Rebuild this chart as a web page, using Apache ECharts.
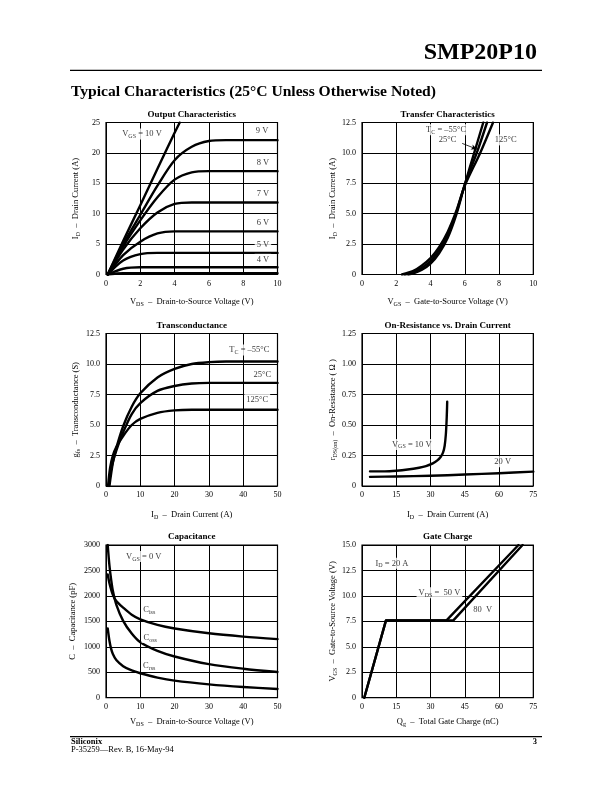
<!DOCTYPE html>
<html>
<head>
<meta charset="utf-8">
<script src="https://cdn.jsdelivr.net/npm/echarts@6.0.0/dist/echarts.min.js"></script>
<style>
html,body{margin:0;padding:0;background:#fff;}
#chart{width:612px;height:792px;}
</style>
</head>
<body>
<div id="chart"></div>
<script>
// ================= DATA =================
// 1. Output Characteristics: ID (A) vs VDS (V), one curve per VGS
const outVgs10 = [[0.1,0],[1,5.5],[2,11.4],[3,17.4],[4,23.3],[4.3,25]];
const outVgs9  = [[0.1,0],[1,5.0],[2,9.8],[3,14.6],[4,18.8],[5,21.0],[6,21.95],[7,22.1],[10,22.1]];
const outVgs8  = [[0.1,0],[1,4.6],[2,8.9],[3,12.7],[4,15.6],[5,16.8],[6,17.0],[10,17.0]];
const outVgs7  = [[0.1,0],[1,4.1],[2,7.6],[3,10.2],[4,11.6],[5,11.85],[10,11.85]];
const outVgs6  = [[0.1,0],[1,3.2],[2,5.4],[3,6.75],[4,7.1],[10,7.1]];
const outVgs5  = [[0.1,0],[1,2.3],[2,3.35],[3,3.55],[10,3.55]];
const outVgs4  = [[0.1,0],[1,0.95],[2,1.2],[10,1.2]];
const outVgs3  = [[0.1,0],[1,0.2],[10,0.2]];
const outXTicks = [0,2,4,6,8,10];
const outYTicks = [0,5,10,15,20,25];

// 2. Transfer Characteristics: ID (A) vs VGS (V), one curve per TC
const trM55 = [[2.7,0],[3,0.1],[3.5,0.4],[4,0.9],[4.5,1.75],[5,3.0],[5.5,4.9],[6,7.4],[6.55,10],[7.08,12.5]];
const tr25  = [[2.5,0],[3,0.2],[3.5,0.55],[4,1.1],[4.5,2.0],[5,3.25],[5.5,5.05],[6,7.4],[6.7,10],[7.3,12.5]];
const tr125 = [[2.33,0],[3,0.3],[3.5,0.75],[4,1.35],[4.5,2.25],[5,3.5],[5.5,5.2],[6,7.3],[6.9,10],[7.65,12.5]];
const trXTicks = [0,2,4,6,8,10];
const trYTicks = [0,2.5,5,7.5,10,12.5];

// 3. Transconductance: gfs (S) vs ID (A)
const gfsM55 = [[1,0],[2,1.9],[3,3.1],[5,4.9],[7.5,6.5],[10,7.6],[15,8.9],[20,9.6],[25,10.0],[30,10.15],[35,10.2],[50,10.2]];
const gfs25  = [[0.8,0],[1.5,1.4],[3,2.9],[5,4.4],[7.5,5.9],[10,6.8],[15,7.8],[20,8.2],[25,8.4],[30,8.45],[50,8.45]];
const gfs125 = [[0.6,0],[1.2,1.5],[2,2.5],[3,3.2],[5,4.1],[7.5,5.0],[10,5.5],[15,6.0],[20,6.2],[25,6.25],[50,6.25]];
const gfsXTicks = [0,10,20,30,40,50];
const gfsYTicks = [0,2.5,5,7.5,10,12.5];

// 4. On-Resistance vs Drain Current: rDS(on) (ohm) vs ID (A)
const rdsVgs10 = [[3.5,0.12],[10,0.12],[15,0.125],[20,0.135],[25,0.15],[28,0.163],[31,0.185],[33,0.21],[34.5,0.24],[35.5,0.275],[36.2,0.33],[36.7,0.42],[37,0.52],[37.2,0.62],[37.3,0.69]];
const rdsVgs20 = [[3.5,0.075],[15,0.078],[30,0.084],[45,0.094],[60,0.105],[75,0.118]];
const rdsXTicks = [0,15,30,45,60,75];
const rdsYTicks = [0,0.25,0.5,0.75,1.0,1.25];

// 5. Capacitance: C (pF) vs VDS (V)
const capCiss = [[0.5,2420],[1,2250],[2,2020],[3,1900],[5,1770],[7.5,1630],[10,1540],[15,1430],[20,1360],[30,1265],[40,1200],[50,1150]];
const capCoss = [[0.5,3000],[1,2600],[1.5,2320],[2,2100],[3,1830],[5,1510],[7.5,1260],[10,1090],[15,920],[20,810],[30,660],[40,570],[50,505]];
const capCrss = [[0.5,1360],[1,1120],[1.5,960],[2,860],[3,740],[5,620],[7.5,535],[10,480],[15,395],[20,335],[30,262],[40,210],[50,172]];
const capXTicks = [0,10,20,30,40,50];
const capYTicks = [0,500,1000,1500,2000,2500,3000];

// 6. Gate Charge: VGS (V) vs Qg (nC)
const qgVds50 = [[1,0],[10.5,7.6],[37,7.6],[68.5,15]];
const qgVds80 = [[1,0],[10.5,7.6],[40,7.6],[70.3,15]];
const qgXTicks = [0,15,30,45,60,75];
const qgYTicks = [0,2.5,5,7.5,10,12.5,15];

// Annotations (data coordinates, text)
const annOut = [[2.1,23.1,'{n|V}{s|GS}{n| = 10 V}'],[9.1,23.6,'{n|9 V}'],[9.15,18.4,'{n|8 V}'],[9.15,13.2,'{n|7 V}'],[9.15,8.5,'{n|6 V}'],[9.15,4.97,'{n|5 V}'],[9.15,2.5,'{n|4 V}']];
const annTr = [[4.91,11.9,'{n|T}{s|C}{n| = –55°C}'],[5.0,11.07,'{n|25°C}'],[8.39,11.07,'{n|125°C}']];
const arrowTr = [[5.85,10.78],[6.72,10.3]];
const annGfs = [[41.8,11.15,'{n|T}{s|C}{n| = –55°C}'],[45.6,9.13,'{n|25°C}'],[44.1,7.1,'{n|125°C}']];
const annRds = [[21.8,0.341,'{n|V}{s|GS}{n| = 10 V}'],[61.6,0.199,'{n|20 V}']];
const annCap = [[11,2773,'{n|V}{s|GS}{n| = 0 V}'],[12.6,1734,'{n|C}{s|iss}'],[12.9,1182,'{n|C}{s|oss}'],[12.6,630,'{n|C}{s|rss}']];
const annQg = [[13.1,13.2,'{n|I}{s|D}{n| = 20 A}'],[33.9,10.3,'{n|V}{s|DS}{n| =  50 V}'],[52.8,8.67,'{n|80  V}']];

// ================= LAYOUT / STYLE =================
const FONT = '"Liberation Serif","Times New Roman",Times,serif';
const RICH = {
  n:{fontFamily:FONT,fontSize:8.5,lineHeight:11,color:'#000'},
  s:{fontFamily:FONT,fontSize:6,lineHeight:6,verticalAlign:'bottom',color:'#000'}
};
const GRIDS = [
  {left:106, top:122.5, width:171.5, height:152},
  {left:362, top:122.5, width:171.3, height:152},
  {left:106, top:333.5, width:171.5, height:152.5},
  {left:362, top:333.5, width:171.3, height:152.5},
  {left:106, top:545,   width:171.5, height:152.7},
  {left:362, top:545,   width:171.3, height:152.7}
];
const panels = [
  {xt:outXTicks, yt:outYTicks, yd:0, xn:'{n|V}{s|DS}{n|  –  Drain-to-Source Voltage (V)}', yn:'{n|I}{s|D}{n|  –  Drain Current (A)}', xg:22, yg:25, title:'Output Characteristics'},
  {xt:trXTicks, yt:trYTicks, yd:1, xn:'{n|V}{s|GS}{n|  –  Gate-to-Source Voltage (V)}', yn:'{n|I}{s|D}{n|  –  Drain Current (A)}', xg:22, yg:21, title:'Transfer Characteristics'},
  {xt:gfsXTicks, yt:gfsYTicks, yd:1, xn:'{n|I}{s|D}{n|  –  Drain Current (A)}', yn:'{n|g}{s|fs}{n|  –  Transconductance (S)}', xg:23, yg:25, title:'Transconductance'},
  {xt:rdsXTicks, yt:rdsYTicks, yd:2, xn:'{n|I}{s|D}{n|  –  Drain Current (A)}', yn:'{n|r}{s|DS(on)}{n|  –  On-Resistance ( Ω )}', xg:23, yg:24, title:'On-Resistance vs. Drain Current'},
  {xt:capXTicks, yt:capYTicks, yd:0, xn:'{n|V}{s|DS}{n|  –  Drain-to-Source Voltage (V)}', yn:'{n|C}{n|  –  Capacitance (pF)}', xg:19, yg:28, title:'Capacitance'},
  {xt:qgXTicks, yt:qgYTicks, yd:1, xn:'{n|Q}{s|g}{n|  –  Total Gate Charge (nC)}', yn:'{n|V}{s|GS}{n|  –  Gate-to-Source Voltage (V)}', xg:19, yg:24, title:'Gate Charge'}
];

const grid = GRIDS.map(g => Object.assign({show:true, borderColor:'#000', borderWidth:1.2, backgroundColor:'#fff', containLabel:false, outerBoundsMode:'none'}, g));
const tickFont = {fontFamily:FONT, fontSize:8, color:'#000'};
const xAxis = panels.map((p,i) => ({
  type:'value', gridIndex:i, min:p.xt[0], max:p.xt[p.xt.length-1], interval:p.xt[1]-p.xt[0],
  axisLine:{show:false}, axisTick:{show:false},
  splitLine:{show:true, lineStyle:{color:'#000', width:1}},
  axisLabel:Object.assign({margin:5, showMinLabel:true, showMaxLabel:true, formatter:v=>String(v)}, tickFont),
  name:p.xn, nameLocation:'middle', nameGap:p.xg, nameTextStyle:{rich:RICH}
}));
const yAxis = panels.map((p,i) => ({
  type:'value', gridIndex:i, min:p.yt[0], max:p.yt[p.yt.length-1], interval:p.yt[1]-p.yt[0],
  axisLine:{show:false}, axisTick:{show:false},
  splitLine:{show:true, lineStyle:{color:'#000', width:1}},
  axisLabel:Object.assign({margin:6, showMinLabel:true, showMaxLabel:true, formatter:v=> v===0 ? '0' : v.toFixed(p.yd)}, tickFont),
  name:p.yn, nameLocation:'middle', nameGap:p.yg, nameRotate:90, nameTextStyle:{rich:RICH}
}));

function curve(i, data, smooth) {
  return {type:'line', xAxisIndex:i, yAxisIndex:i, data:data, symbol:'none', showSymbol:false,
    smooth: smooth===false ? false : 0.3, silent:true, z:3,
    lineStyle:{color:'#000', width:2.4, cap:'round', join:'round'}, clip:true};
}
function notes(i, ann, extra) {
  const s = {type:'scatter', xAxisIndex:i, yAxisIndex:i, symbolSize:1, silent:true, z:6,
    itemStyle:{color:'rgba(0,0,0,0)'},
    data: ann.map(a => ({value:[a[0],a[1]], name:a[2]})),
    label:{show:true, position:'inside', formatter:p=>p.name, rich:RICH,
      fontFamily:FONT, fontSize:8.5, color:'#000', backgroundColor:'#fff', padding:[0,2,0,2]}};
  return Object.assign(s, extra||{});
}

const series = [
  curve(0,outVgs10), curve(0,outVgs9), curve(0,outVgs8), curve(0,outVgs7),
  curve(0,outVgs6), curve(0,outVgs5), curve(0,outVgs4), curve(0,outVgs3),
  notes(0, annOut),
  curve(1,trM55), curve(1,tr25), curve(1,tr125),
  notes(1, annTr, {markLine:{silent:true, animation:false, symbol:['none','arrow'], symbolSize:[4,6],
    lineStyle:{color:'#000', width:0.8, type:'solid'}, label:{show:false},
    data:[[{coord:arrowTr[0]},{coord:arrowTr[1]}]]}}),
  curve(2,gfsM55), curve(2,gfs25), curve(2,gfs125),
  notes(2, annGfs),
  curve(3,rdsVgs10), curve(3,rdsVgs20),
  notes(3, annRds),
  curve(4,capCiss), curve(4,capCoss), curve(4,capCrss),
  notes(4, annCap),
  curve(5,qgVds50,false), curve(5,qgVds80,false),
  notes(5, annQg)
];

// page texts + chart titles
const graphic = [
  {type:'text', x:537, y:53, style:{text:'SMP20P10', font:'bold 24px '+FONT, fill:'#000', align:'right', verticalAlign:'middle'}},
  {type:'line', shape:{x1:70, y1:70.3, x2:542, y2:70.3}, style:{stroke:'#000', lineWidth:1.3}},
  {type:'text', x:71, y:92, style:{text:'Typical Characteristics (25°C Unless Otherwise Noted)', font:'bold 15.6px '+FONT, fill:'#000', align:'left', verticalAlign:'middle'}},
  {type:'line', shape:{x1:70, y1:736.7, x2:542, y2:736.7}, style:{stroke:'#000', lineWidth:1.2}},
  {type:'text', x:71, y:741.5, style:{text:'Siliconix', font:'bold 8.5px '+FONT, fill:'#000', align:'left', verticalAlign:'middle'}},
  {type:'text', x:537, y:741.5, style:{text:'3', font:'bold 8.5px '+FONT, fill:'#000', align:'right', verticalAlign:'middle'}},
  {type:'text', x:71, y:749.8, style:{text:'P-35259—Rev. B, 16-May-94', font:'8.5px '+FONT, fill:'#000', align:'left', verticalAlign:'middle'}}
];
const titleY = [114.3, 114.3, 325.3, 325.3, 536.7, 536.7];
panels.forEach((p,i) => {
  const g = GRIDS[i];
  graphic.push({type:'text', x:g.left + g.width/2, y:titleY[i], style:{text:p.title, font:'bold 9px '+FONT, fill:'#000', align:'center', verticalAlign:'middle'}});
});

const chart = echarts.init(document.getElementById('chart'), null, {renderer:'canvas'});
chart.setOption({
  animation:false,
  backgroundColor:'#fff',
  grid, xAxis, yAxis, series, graphic
});
</script>
</body>
</html>
